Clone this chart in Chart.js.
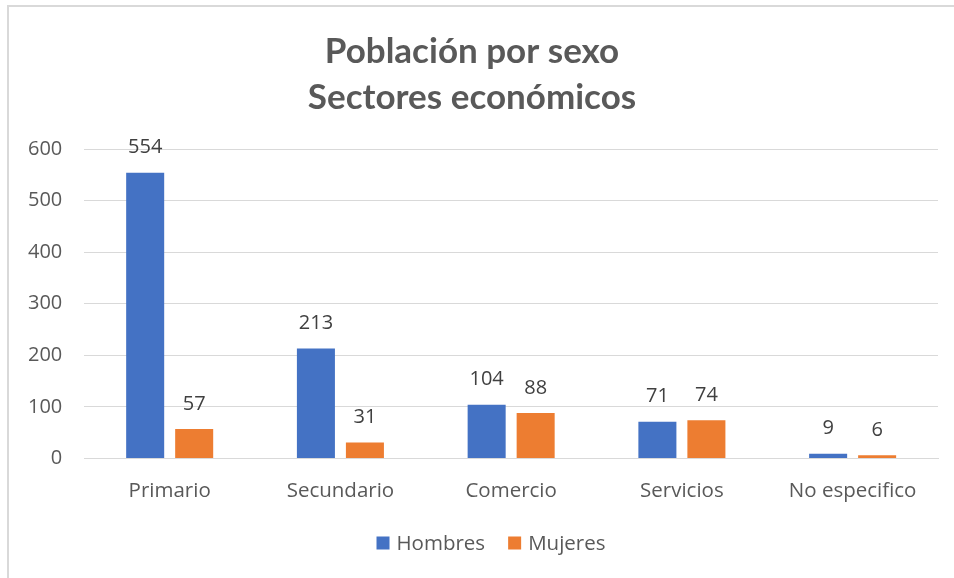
<!DOCTYPE html>
<html>
<head>
<meta charset="utf-8">
<script src="https://cdn.jsdelivr.net/npm/chart.js@4"></script>
<style>
  html, body { margin: 0; padding: 0; background: #fff; overflow: hidden; }
  #wrap { position: relative; width: 954px; height: 578px; }
  #frame { position: absolute; left: 7px; top: 5px; width: 960px; height: 590px; border: 2px solid #d9d9d9; box-sizing: border-box; }
  canvas { position: absolute; left: 0; top: 0; }
</style>
</head>
<body>
<div id="wrap">
  <div id="frame"></div>
  <canvas id="chart" width="954" height="578"></canvas>
</div>
<script>
const categories = ['Primario', 'Secundario', 'Comercio', 'Servicios', 'No especifico'];
const hombres = [554, 213, 104, 71, 9];
const mujeres = [57, 31, 88, 74, 6];
const titleLines = ['Población por sexo', 'Sectores económicos'];

const FONT = "'Open Sans', sans-serif";
const TITLE_FONT = "Lato, sans-serif";

// draws the value above each bar
const valueLabels = {
  id: 'valueLabels',
  afterDatasetsDraw(chart) {
    const ctx = chart.ctx;
    ctx.save();
    ctx.font = `20px ${FONT}`;
    ctx.fillStyle = '#404040';
    ctx.textAlign = 'center';
    ctx.textBaseline = 'middle';
    chart.data.datasets.forEach((ds, i) => {
      chart.getDatasetMeta(i).data.forEach((bar, j) => {
        ctx.fillText(ds.data[j], bar.x, bar.y - 25);
      });
    });
    ctx.restore();
  }
};

// legend drawn by hand so it can sit where excel puts it
const bottomLegend = {
  id: 'bottomLegend',
  afterDraw(chart) {
    const ctx = chart.ctx;
    const box = 13, gap = 7, between = 23;
    const cx = 491, cy = 543;
    ctx.save();
    ctx.font = `20.5px ${FONT}`;
    ctx.textBaseline = 'middle';
    const items = chart.data.datasets.map(ds => ({ text: ds.label, color: ds.backgroundColor, w: ctx.measureText(ds.label).width }));
    const total = items.reduce((s, it) => s + box + gap + it.w, 0) + between * (items.length - 1);
    let x = cx - total / 2;
    items.forEach(it => {
      ctx.fillStyle = it.color;
      ctx.fillRect(x, cy - box / 2, box, box);
      ctx.fillStyle = '#595959';
      ctx.fillText(it.text, x + box + gap, cy + 1);
      x += box + gap + it.w + between;
    });
    ctx.restore();
  }
};

new Chart(document.getElementById('chart'), {
  type: 'bar',
  data: {
    labels: categories,
    datasets: [
      { label: 'Hombres', data: hombres, backgroundColor: '#4472c4' },
      { label: 'Mujeres', data: mujeres, backgroundColor: '#ed7d31' }
    ]
  },
  options: {
    responsive: false,
    animation: false,
    categoryPercentage: 0.574,
    barPercentage: 0.776,
    layout: { padding: { left: 6, right: 16, top: 21, bottom: 63 } },
    plugins: {
      title: {
        display: true,
        text: titleLines,
        color: '#595959',
        font: { family: TITLE_FONT, size: 35, weight: 'bold', lineHeight: 1.3 },
        padding: { top: 8, bottom: 29 }
      },
      legend: { display: false },
      tooltip: { enabled: false }
    },
    scales: {
      x: {
        grid: { display: false },
        border: { color: '#d9d9d9', width: 1 },
        ticks: { color: '#595959', font: { family: FONT, size: 20.5 }, padding: 12 }
      },
      y: {
        min: 0,
        max: 600,
        ticks: { stepSize: 100, color: '#595959', font: { family: FONT, size: 20 }, padding: 22 },
        grid: { color: '#d9d9d9', drawTicks: false },
        border: { display: false }
      }
    }
  },
  plugins: [valueLabels, bottomLegend]
});
</script>
</body>
</html>
